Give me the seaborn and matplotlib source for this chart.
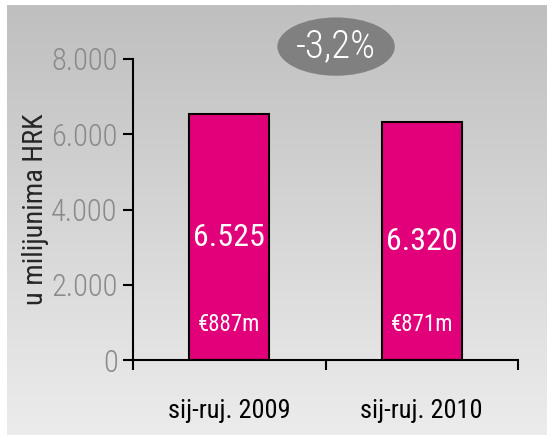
import numpy as np
import pandas as pd
import matplotlib
matplotlib.use('Agg')
import matplotlib.pyplot as plt
import seaborn as sns
from matplotlib.patches import Ellipse
from matplotlib import font_manager

# data
periods = ['sij-ruj. 2009', 'sij-ruj. 2010']
values_hrk = [6525, 6320]
value_labels = ['6.525', '6.320']
eur_labels = ['€887m', '€871m']
change_label = '-3,2%'
yticks = [0, 2000, 4000, 6000, 8000]
ytick_labels = ['0', '2.000', '4.000', '6.000', '8.000']

sns.set_style('white')

# pick a narrow font if one is installed
fonts = font_manager.fontManager.ttflist
names = {f.name for f in fonts}
family = None
for cand in ['Liberation Sans Narrow', 'Roboto Condensed', 'Open Sans Condensed',
             'DejaVu Sans Condensed']:
    if cand in names:
        family = cand
        break
if family is None and any(f.name == 'DejaVu Sans' and f.stretch == 'condensed' for f in fonts):
    family = 'DejaVu Sans'
    plt.rcParams['font.stretch'] = 'condensed'
if family is None:
    family = 'Liberation Sans'
plt.rcParams['font.family'] = [family, 'DejaVu Sans']

magenta = '#e2007a'
df = pd.DataFrame({'period': periods, 'value': values_hrk})

fig = plt.figure(figsize=(5.47, 4.37), dpi=100)
fig.patch.set_facecolor('white')

# gradient background panel
bg = fig.add_axes([7 / 547, 2 / 437, 540 / 547, 430 / 437])
grad = np.linspace(0, 1, 256).reshape(-1, 1)
bg.imshow(grad, aspect='auto', cmap=matplotlib.colors.LinearSegmentedColormap.from_list(
    'g', ['#bfbfbf', '#ececec']), extent=[0, 1, 0, 1], origin='upper')
bg.set_axis_off()

ax = fig.add_axes([133 / 547, 1 - 360 / 437, 385 / 547, 301 / 437])
ax.set_facecolor('none')
sns.barplot(data=df, x='period', y='value', color=magenta, width=0.415,
            edgecolor='black', linewidth=1.5, saturation=1, ax=ax)

ax.set_xlim(-0.5, 1.5)
ax.set_ylim(0, 8000)
ax.set_yticks(yticks)
ax.set_yticklabels(ytick_labels, fontsize=22, color='#8a8a8a', fontweight='light')
ax.set_xticks([-0.5, 0.5, 1.5])
ax.set_xticklabels([])
ax.set_xticks(range(len(periods)), minor=True)
ax.set_xticklabels(periods, minor=True, fontsize=19, color='black')
ax.tick_params(axis='x', which='minor', length=0, pad=28)
ax.tick_params(axis='both', which='major', length=7, width=1.5, color='black',
               direction='out', left=True, bottom=True)
ax.tick_params(axis='y', pad=4)
ax.set_xlabel('')
ax.set_ylabel('u milijunima HRK', fontsize=20.5, labelpad=2)
for side in ['top', 'right']:
    ax.spines[side].set_visible(False)
for side in ['left', 'bottom']:
    ax.spines[side].set_color('black')
    ax.spines[side].set_linewidth(1.5)

for i, (v, lab, eur) in enumerate(zip(values_hrk, value_labels, eur_labels)):
    ax.text(i, v / 2, lab, ha='center', va='center', color='white', fontsize=23)
    ax.text(i, 950, eur, ha='center', va='center', color='white', fontsize=16.5)

ax.add_patch(Ellipse((0.555, 8330), 0.61, 1550,
                     facecolor='#808080', edgecolor='none', clip_on=False))
ax.text(0.555, 8330, change_label, ha='center', va='center', color='white', fontsize=28,
        fontweight='light')

fig.savefig('out.png', dpi=100)
